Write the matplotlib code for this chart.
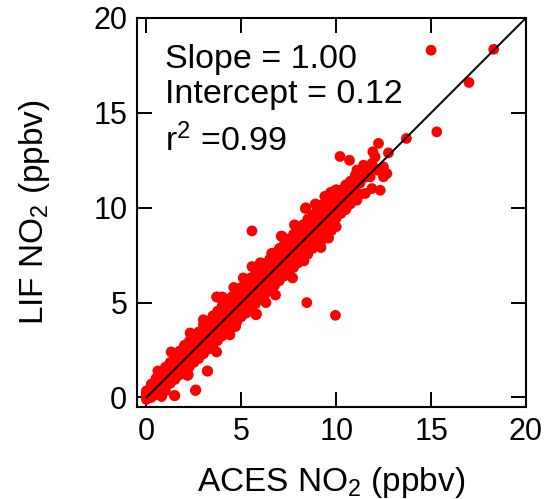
import numpy as np
import matplotlib
matplotlib.use("Agg")
import matplotlib.pyplot as plt

plt.rcParams['font.family'] = ['Liberation Sans', 'DejaVu Sans']
plt.rcParams['mathtext.fontset'] = 'custom'
plt.rcParams['mathtext.rm'] = 'Liberation Sans'
plt.rcParams['mathtext.it'] = 'Liberation Sans'

# main band (ACES x, LIF y read along the band edges and centre)
aces_core = [0.00, 0.25, 0.50, 0.75, 1.00, 1.25, 1.50, 1.75, 2.00, 2.25, 2.50,
             2.75, 3.00, 3.25, 3.50, 3.75, 4.00, 4.25, 4.50, 4.75, 5.00, 5.25,
             5.50, 5.75, 6.00, 6.25, 6.50, 6.75, 7.00, 7.25, 7.50, 7.75, 8.00,
             8.25, 8.50, 8.75, 9.00, 9.25, 9.50, 9.75, 10.00]
lif_upper = [0.35, 0.70, 1.00, 1.30, 1.60, 1.85, 2.20, 2.45, 2.75, 2.95, 3.30,
             3.45, 3.85, 4.00, 4.30, 4.55, 4.85, 5.00, 5.30, 5.60, 5.80, 6.10,
             6.30, 6.55, 6.85, 7.05, 7.30, 7.60, 7.85, 8.05, 8.35, 8.60, 8.85,
             9.10, 9.40, 9.60, 9.90, 10.15, 10.45, 10.65, 10.95]
lif_upper_mid = [0.20, 0.50, 0.75, 1.05, 1.35, 1.60, 1.85, 2.10, 2.40, 2.65, 2.90,
                 3.15, 3.45, 3.65, 3.90, 4.20, 4.45, 4.65, 4.95, 5.20, 5.45, 5.70,
                 5.95, 6.20, 6.45, 6.70, 6.95, 7.20, 7.45, 7.70, 7.95, 8.25, 8.45,
                 8.70, 8.95, 9.20, 9.45, 9.70, 9.95, 10.20, 10.45]
lif_mid = [0.10, 0.35, 0.60, 0.85, 1.10, 1.35, 1.60, 1.85, 2.10, 2.35, 2.60,
           2.85, 3.10, 3.35, 3.60, 3.85, 4.10, 4.35, 4.60, 4.85, 5.10, 5.35,
           5.60, 5.85, 6.10, 6.35, 6.60, 6.85, 7.10, 7.35, 7.60, 7.85, 8.10,
           8.35, 8.60, 8.85, 9.10, 9.35, 9.60, 9.85, 10.10]
lif_lower_mid = [0.00, 0.15, 0.35, 0.55, 0.80, 1.00, 1.25, 1.50, 1.75, 1.95, 2.20,
                 2.45, 2.70, 2.95, 3.15, 3.40, 3.65, 3.90, 4.15, 4.35, 4.60, 4.85,
                 5.10, 5.35, 5.60, 5.85, 6.10, 6.35, 6.55, 6.80, 7.05, 7.30, 7.55,
                 7.75, 8.00, 8.25, 8.50, 8.75, 8.95, 9.25, 9.45]
lif_lower = [-0.10, 0.00, 0.15, 0.35, 0.55, 0.75, 0.95, 1.20, 1.40, 1.60, 1.85,
             2.05, 2.30, 2.55, 2.75, 3.00, 3.25, 3.50, 3.70, 3.95, 4.25, 4.45,
             4.70, 4.95, 5.20, 5.45, 5.65, 5.90, 6.15, 6.40, 6.65, 6.85, 7.10,
             7.35, 7.55, 7.85, 8.05, 8.30, 8.50, 8.80, 9.00]

# scattered points along the edges of the band
aces_edge = [0.6, 1.3, 2.3, 3.0, 3.7, 4.0, 4.6, 5.1, 6.0, 6.6, 7.1, 7.8, 8.4, 8.9,
             9.4, 9.7, 1.5, 2.6, 3.2, 2.2, 3.7, 4.7, 5.8, 4.4, 6.8, 7.7, 8.3, 9.6,
             9.2, 1.0, 0.8, 6.3, 5.56]
lif_edge = [1.4, 2.4, 3.4, 4.1, 5.3, 5.3, 5.8, 6.3, 7.1, 7.6, 8.5, 9.1, 10.0, 10.2,
            10.6, 10.8, 0.1, 0.4, 1.4, 1.2, 2.4, 3.75, 4.4, 3.3, 5.4, 6.3, 7.2, 8.4,
            7.9, 0.35, 0.05, 5.0, 6.9]

# upper end of the cloud (10-14 ppbv)
aces_top = [8.37, 8.9, 9.25, 9.77, 10.3, 10.74, 11.09, 11.44, 11.88, 12.05, 12.75,
            12.23, 11.93, 12.49, 12.49, 12.32, 11.88, 11.53, 11.09, 10.56, 9.86,
            9.51, 11.26, 10.91, 10.38, 11.79, 11.62, 12.14, 12.67,
            10.25, 10.5, 10.75, 11.0, 11.25, 11.5, 11.75, 12.0,
            10.25, 10.5, 10.75, 11.0, 10.25, 10.5, 10.75, 11.0, 11.25]
lif_top = [9.96, 9.7, 10.04, 10.83, 10.95, 11.36, 11.98, 12.24, 12.33, 12.68, 12.89,
           13.39, 12.95, 12.15, 11.63, 10.92, 11.01, 10.75, 10.4, 10.04, 9.34,
           8.46, 11.45, 11.1, 10.75, 11.63, 11.89, 11.98, 11.8,
           10.35, 10.6, 10.85, 11.1, 11.3, 11.6, 11.85, 12.1,
           10.9, 11.2, 11.4, 11.7, 9.7, 9.9, 10.2, 10.5, 10.7]

# isolated outliers
aces_out = [5.56, 8.45, 9.96, 10.2, 10.7, 13.7, 15.0, 18.3, 17.0, 15.3, 1.47, 2.58,
            3.23, 4.68, 5.77, 7.14, 3.72, 2.17]
lif_out = [8.78, 5.0, 4.33, 12.7, 12.5, 13.65, 18.3, 18.35, 16.6, 14.0, 0.1, 0.37,
           1.39, 3.75, 4.36, 8.5, 5.29, 1.16]

aces = (aces_core * 5) + aces_edge + aces_top + aces_out
lif = (lif_upper + lif_upper_mid + lif_mid + lif_lower_mid + lif_lower
       + lif_edge + lif_top + lif_out)

fig = plt.figure(figsize=(5.44, 4.99), dpi=100)
ax = fig.add_axes([0.2518, 0.1844, 0.7150, 0.7796])

ax.scatter(aces, lif, s=60, color='red', edgecolors='none', zorder=2)
ax.plot([0, 20], [0, 20], color='black', lw=1.4, zorder=3)

ax.set_xlim(-0.5, 20)
ax.set_ylim(-0.5, 20)
ax.set_xticks([0, 5, 10, 15, 20])
ax.set_yticks([0, 5, 10, 15, 20])
ax.tick_params(direction='in', top=True, right=True, length=10.5, width=1.4,
               labelsize=22, pad=7)
for sp in ax.spines.values():
    sp.set_linewidth(1.5)

ax.set_xlabel('ACES NO$_2$ (ppbv)', fontsize=24)
ax.set_ylabel('LIF NO$_2$ (ppbv)', fontsize=24)
ax.xaxis.set_label_coords(0.5, -0.149)
ax.yaxis.set_label_coords(-0.218, 0.5)

ax.text(1.0, 17.36, 'Slope = 1.00', fontsize=24.5, va='baseline')
ax.text(1.0, 15.5, 'Intercept = 0.12', fontsize=24.5, va='baseline')
ax.text(1.0, 13.0, 'r$^2$ =0.99', fontsize=24.5, va='baseline')

fig.savefig('out.png', dpi=100)
